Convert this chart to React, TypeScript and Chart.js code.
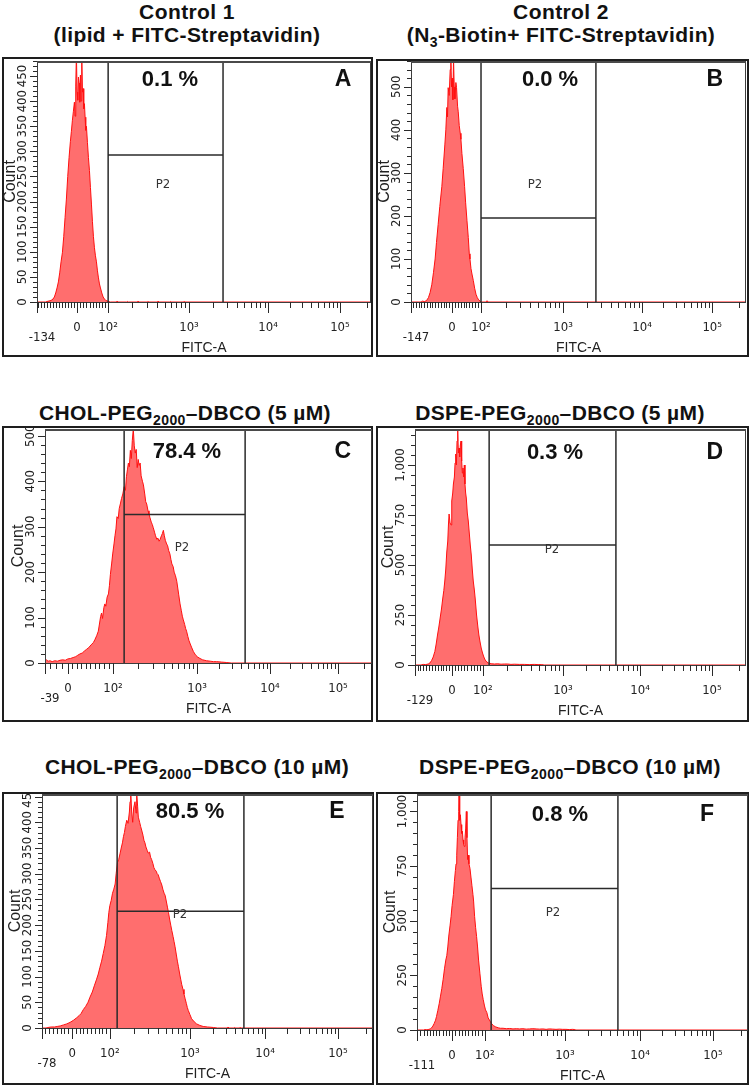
import React, { useEffect, useRef } from "react";
import { Chart, registerables } from "chart.js";

Chart.register(...registerables);

const FONT = '"Liberation Sans", Arial, Helvetica, sans-serif';
const NARROW = '"Liberation Sans Narrow", "DejaVu Sans Condensed", "Liberation Sans", sans-serif';

// ---------- Histogram series: [display channel (0-1000), count] ----------
const histA: number[][] = [[0,0],[26,0],[30,1],[36,2],[42,3],[48,6],[52,10],[56,18],[60,28],[64,40],[68,58],[72,80],[76,98],[80,130],[84,168],[88,205],[92,250],[96,288],[100,320],[103,340],[106,362],[109,380],[112,398],[114,370],[116,430],[118,495],[120,418],[122,402],[124,448],[126,436],[128,398],[130,452],[132,400],[134,495],[136,418],[138,425],[140,385],[142,395],[144,368],[146,342],[148,350],[151,318],[154,288],[157,262],[160,228],[163,195],[166,160],[169,130],[172,108],[175,92],[178,80],[181,62],[184,48],[187,36],[190,28],[194,18],[198,10],[202,6],[206,3],[210,2],[214,1],[220,0],[238,0],[240,2],[243,0],[268,0],[270,1],[273,0],[300,0],[302,2],[305,0],[330,0],[332,1],[335,0],[360,0],[362,2],[365,0],[398,0],[400,1],[403,0],[438,0],[440,1],[443,0],[1000,0]];
const histB: number[][] = [[0,0],[30,0],[34,2],[40,1],[46,3],[52,10],[57,22],[62,40],[67,68],[72,100],[76,138],[81,180],[86,222],[92,268],[96,310],[101,365],[104,400],[107,452],[109,430],[111,498],[114,480],[117,540],[119,565],[121,500],[123,520],[125,470],[127,565],[129,500],[131,472],[134,510],[136,498],[139,455],[141,442],[144,410],[147,392],[149,378],[152,345],[156,310],[160,268],[163,232],[167,190],[171,150],[174,112],[176,100],[179,78],[182,65],[186,50],[190,32],[194,18],[198,10],[202,5],[206,2],[210,0],[225,0],[227,3],[230,0],[1000,0]];
const histC: number[][] = [[0,10],[5,6],[10,4],[15,5],[22,3],[30,5],[38,4],[46,6],[54,7],[62,6],[70,9],[78,10],[86,12],[94,14],[100,17],[107,20],[114,22],[120,26],[127,30],[134,34],[141,40],[148,45],[153,52],[158,60],[163,70],[167,88],[170,102],[173,110],[176,98],[180,122],[183,130],[186,125],[190,145],[194,152],[197,170],[200,195],[204,220],[207,240],[211,262],[214,280],[217,295],[220,322],[224,318],[227,340],[231,352],[234,362],[238,372],[242,388],[246,380],[249,410],[252,425],[255,440],[258,432],[261,468],[264,450],[267,490],[270,515],[273,478],[276,462],[279,470],[282,430],[285,448],[288,435],[291,440],[294,412],[298,400],[301,392],[305,372],[308,355],[311,350],[315,335],[318,328],[321,320],[325,310],[328,305],[331,298],[335,288],[338,280],[342,272],[345,275],[349,268],[352,272],[356,280],[359,285],[362,292],[365,280],[368,270],[372,262],[375,258],[378,248],[382,240],[385,228],[388,218],[392,212],[395,200],[399,192],[403,180],[406,165],[409,150],[413,130],[417,115],[420,103],[423,95],[427,85],[430,76],[433,70],[437,58],[440,50],[443,44],[448,35],[454,25],[460,18],[467,13],[474,10],[482,7],[494,5],[505,4],[515,3],[525,3],[540,2],[556,1],[570,0],[1000,0]];
const histD: number[][] = [[0,0],[18,0],[25,3],[32,2],[40,5],[45,10],[50,22],[55,40],[60,68],[64,105],[68,150],[72,190],[76,235],[80,280],[84,335],[87,372],[90,420],[93,480],[96,565],[99,620],[101,700],[103,755],[106,710],[109,700],[111,820],[114,860],[116,905],[119,940],[121,1010],[123,1055],[125,1000],[127,1120],[129,1185],[131,1060],[133,1085],[135,1040],[137,1100],[139,1120],[141,1020],[143,960],[145,985],[147,940],[149,1000],[151,905],[153,860],[155,835],[158,760],[161,720],[164,660],[167,600],[170,550],[173,480],[176,420],[179,380],[182,330],[186,250],[190,190],[193,150],[196,120],[200,85],[204,60],[208,40],[212,25],[217,15],[222,10],[227,8],[232,6],[240,5],[250,6],[260,4],[270,5],[280,5],[290,3],[300,4],[315,3],[330,3],[345,2],[360,3],[372,2],[383,2],[390,0],[1000,0]];
const histE: number[][] = [[0,0],[12,0],[18,1],[28,2],[38,2],[46,3],[55,4],[65,6],[75,8],[85,11],[95,15],[105,20],[112,24],[118,28],[125,36],[132,42],[139,50],[145,60],[152,70],[158,82],[165,95],[170,105],[175,118],[180,130],[185,145],[190,160],[195,180],[199,205],[202,225],[205,238],[209,248],[213,262],[217,270],[221,280],[224,300],[228,322],[232,328],[236,340],[240,352],[243,360],[246,372],[249,380],[252,392],[256,404],[260,398],[264,420],[266,440],[268,458],[271,420],[274,400],[277,428],[281,440],[284,418],[286,458],[289,430],[291,410],[295,400],[298,392],[301,385],[305,375],[308,365],[311,360],[314,352],[318,345],[321,340],[325,342],[328,332],[331,328],[335,320],[338,312],[341,308],[345,305],[348,300],[351,298],[355,290],[358,285],[362,278],[365,270],[369,262],[372,258],[376,245],[379,235],[382,225],[386,210],[389,200],[392,190],[396,178],[399,168],[402,158],[406,142],[409,130],[412,120],[416,105],[419,95],[422,85],[426,75],[429,66],[432,58],[436,48],[439,40],[442,34],[447,26],[452,18],[460,12],[467,8],[477,5],[487,3],[500,2],[518,1],[530,0],[560,0],[562,2],[565,0],[580,0],[582,1],[585,0],[596,0],[598,1],[601,0],[1000,0]];
const histF: number[][] = [[0,0],[20,0],[24,2],[30,1],[36,3],[40,5],[44,10],[48,18],[52,30],[56,45],[59,62],[63,90],[67,120],[71,155],[75,190],[79,232],[83,280],[87,320],[90,340],[93,380],[96,430],[100,480],[103,520],[106,570],[110,620],[113,680],[116,730],[118,760],[120,800],[122,880],[124,960],[126,1000],[127,1080],[129,960],[131,985],[133,940],[135,900],[137,910],[139,870],[141,850],[143,840],[145,880],[147,920],[149,1000],[151,880],[153,780],[155,800],[157,760],[160,740],[163,700],[166,660],[169,620],[171,590],[174,520],[177,470],[180,428],[183,380],[186,320],[190,260],[194,200],[197,165],[200,140],[204,110],[207,92],[211,80],[215,55],[221,40],[226,28],[231,20],[238,14],[246,10],[252,8],[260,8],[270,6],[280,7],[290,5],[300,6],[310,5],[320,6],[330,4],[340,5],[350,6],[360,5],[370,4],[380,5],[390,3],[400,5],[410,4],[420,3],[430,4],[440,3],[450,3],[460,2],[470,3],[477,2],[480,0],[1000,0]];

// ---------- X axis calibration: channel of [min, 0, 10^2, 10^3, 10^4, 10^5] ----------
const xTicksA = [0, 120, 213, 455, 692, 907];
const xTicksB = [0, 122, 209, 454, 690, 899];
const xTicksC = [0, 70, 208, 465, 688, 896];
const xTicksD = [0, 112, 205, 447, 680, 897];
const xTicksE = [0, 91, 205, 447, 674, 894];
const xTicksF = [0, 106, 205, 447, 674, 894];
const xMinLabels = ["-134", "-147", "-39", "-129", "-78", "-111"];
const decadeLabels = ["0", "10\u00B2", "10\u00B3", "10\u2074", "10\u2075"];

// ---------- Y axis ----------
const yMaxes = [480, 560, 515, 1180, 455, 1080];
const yMajorSteps = [50, 100, 100, 250, 50, 250];
const yMinorSteps = [10, 20, 20, 50, 10, 50];

// ---------- P2 gates: [left channel, right channel, marker count] ----------
const gateA = [213, 557, 293];
const gateB = [209, 552, 195];
const gateC = [242, 612, 327];
const gateD = [224, 607, 600];
const gateE = [227, 610, 227];
const gateF = [224, 607, 647];

const percents = ["0.1 %", "0.0 %", "78.4 %", "0.3 %", "80.5 %", "0.8 %"];
const letters = ["A", "B", "C", "D", "E", "F"];

// ---------- annotation anchors in data units: [pctCh, pctCount, letterCh, p2Ch, p2Count] ----------
const annA = [398, 442, 916, 377, 233];
const annB = [415, 516, 907, 370, 272];
const annC = [434, 465, 911, 419, 254];
const annD = [423, 1060, 906, 414, 575];
const annE = [447, 420, 891, 417, 221];
const annF = [432, 986, 876, 411, 537];

// ---------- layout (page px): frame [x0,y0,x1,y1], plot [x0,y0,x1,y1] ----------
const frames = [
  [2, 57, 373, 357],
  [376, 59, 749, 357],
  [2, 426, 373, 722],
  [376, 426, 749, 722],
  [2, 792, 374, 1085],
  [376, 792, 749, 1085],
];
const plots = [
  [37, 61, 371, 302],
  [411, 61, 746, 302],
  [45, 429, 372, 663],
  [415, 429, 746, 665],
  [42, 794, 373, 1028],
  [417, 794, 748, 1030],
];

const hists = [histA, histB, histC, histD, histE, histF];
const xTicks = [xTicksA, xTicksB, xTicksC, xTicksD, xTicksE, xTicksF];
const gates = [gateA, gateB, gateC, gateD, gateE, gateF];
const anns = [annA, annB, annC, annD, annE, annF];

function minorXTicks(t: number[], minVal: number): number[] {
  const [cMin, c0, c2, c3, c4, c5] = t;
  const out: number[] = [];
  for (let v = Math.ceil(minVal / 10) * 10; v < 100; v += 10) {
    if (v === 0 || v === minVal) continue;
    const c = v < 0 ? cMin + ((v - minVal) / (0 - minVal)) * (c0 - cMin) : c0 + (v / 100) * (c2 - c0);
    out.push(c);
  }
  const dec = [c2, c3, c4, c5];
  for (let d = 0; d < 3; d++)
    for (let k = 2; k <= 9; k++) out.push(dec[d] + Math.log10(k) * (dec[d + 1] - dec[d]));
  const c6 = c5 + Math.log10(2.4) * (c5 - c4);
  out.push(c6);
  return out;
}

function fmt(v: number) {
  return v >= 1000 ? v.toLocaleString("en-US") : String(v);
}

function makeDecor(i: number) {
  return {
    id: "facsDecor" + i,
    afterDraw(chart: any) {
      const { ctx, chartArea } = chart;
      const xs = chart.scales.x;
      const ys = chart.scales.y;
      const L = chartArea.left, R = chartArea.right, T = chartArea.top, B = chartArea.bottom;
      const yMax = yMaxes[i], major = yMajorSteps[i], minor = yMinorSteps[i];
      ctx.save();
      // outer frame
      ctx.strokeStyle = "#1e1e1e";
      ctx.lineWidth = 2;
      ctx.strokeRect(1, 1, chart.width - 2, chart.height - 2);
      // plot box
      ctx.strokeStyle = "#3c3c3c";
      ctx.lineWidth = 1;
      ctx.beginPath();
      ctx.moveTo(L + 0.5, T);
      ctx.lineTo(L + 0.5, B + 0.5);
      ctx.lineTo(R, B + 0.5);
      ctx.moveTo(R - 0.5, T);
      ctx.lineTo(R - 0.5, B);
      ctx.stroke();
      ctx.strokeStyle = "#4a4a4a";
      ctx.lineWidth = 2;
      ctx.beginPath();
      ctx.moveTo(L, T + 1);
      ctx.lineTo(R, T + 1);
      ctx.stroke();

      // y ticks
      ctx.strokeStyle = "#2a2a2a";
      ctx.lineWidth = 1;
      ctx.beginPath();
      for (let v = 0; v <= yMax + 1e-6; v += minor) {
        const py = Math.round(ys.getPixelForValue(v)) + 0.5;
        const len = v % major === 0 ? 7 : 4;
        ctx.moveTo(L - len, py);
        ctx.lineTo(L, py);
      }
      ctx.stroke();
      ctx.fillStyle = "#222";
      ctx.font = `13px ${NARROW}`;
      ctx.textAlign = "center";
      ctx.textBaseline = "middle";
      for (let v = 0; v <= yMax + 1e-6; v += major) {
        ctx.save();
        ctx.translate(L - 14, ys.getPixelForValue(v));
        ctx.rotate(-Math.PI / 2);
        ctx.fillText(fmt(v), 0, 0);
        ctx.restore();
      }
      ctx.save();
      ctx.font = `16px ${FONT}`;
      ctx.translate(L - 26, (T + B) / 2);
      ctx.rotate(-Math.PI / 2);
      ctx.fillText("Count", 0, 0);
      ctx.restore();

      // x ticks
      const t = xTicks[i];
      const minVal = parseFloat(xMinLabels[i]);
      const minors = minorXTicks(t, minVal);
      ctx.beginPath();
      for (const c of minors) {
        const px = Math.round(xs.getPixelForValue(c)) + 0.5;
        ctx.moveTo(px, B);
        ctx.lineTo(px, B + 6);
      }
      for (const c of t) {
        const px = Math.round(xs.getPixelForValue(c)) + 0.5;
        ctx.moveTo(px, B);
        ctx.lineTo(px, B + 11);
      }
      ctx.stroke();
      ctx.font = `13px ${NARROW}`;
      for (let k = 1; k < t.length; k++) {
        ctx.fillText(decadeLabels[k - 1], xs.getPixelForValue(t[k]), B + 26);
      }
      ctx.fillText(xMinLabels[i], L + 5, B + 36);
      ctx.font = `14px ${FONT}`;
      ctx.fillText("FITC-A", (L + R) / 2, B + 46);

      // annotations
      const a = anns[i];
      ctx.fillStyle = "#111";
      ctx.font = `bold 22px ${FONT}`;
      ctx.fillText(percents[i], xs.getPixelForValue(a[0]), ys.getPixelForValue(a[1]));
      ctx.font = `bold 23px ${FONT}`;
      ctx.fillText(letters[i], xs.getPixelForValue(a[2]), ys.getPixelForValue(a[1]));
      ctx.font = `13px ${NARROW}`;
      ctx.fillStyle = "#333";
      ctx.fillText("P2", xs.getPixelForValue(a[3]), ys.getPixelForValue(a[4]));
      ctx.restore();
    },
  };
}

function Panel({ i }: { i: number }) {
  const ref = useRef<HTMLCanvasElement>(null);
  const [fx0, fy0, fx1, fy1] = frames[i];
  const [px0, py0, px1, py1] = plots[i];
  const w = fx1 - fx0;
  const h = fy1 - fy0;

  useEffect(() => {
    const [gl, gr, gy] = gates[i];
    const yMax = yMaxes[i];
    const gateData = [
      { x: gl, y: 0 }, { x: gl, y: yMax }, { x: gl, y: null },
      { x: gl, y: gy }, { x: gr, y: gy }, { x: gr, y: null },
      { x: gr, y: 0 }, { x: gr, y: yMax },
    ];
    const chart = new Chart(ref.current as HTMLCanvasElement, {
      type: "line",
      data: {
        datasets: [
          {
            label: "P2 gate",
            data: gateData as any,
            borderColor: "#2b2b2b",
            borderWidth: 1.5,
            pointRadius: 0,
            fill: false,
            spanGaps: false,
          },
          {
            label: "FITC-A",
            data: hists[i].map(([x, y]) => ({ x, y })),
            borderColor: "#ff1010",
            backgroundColor: "#ff6e6e",
            borderWidth: 1,
            pointRadius: 0,
            fill: "origin",
            tension: 0,
          },
        ],
      },
      options: {
        animation: false,
        responsive: false,
        maintainAspectRatio: false,
        events: [],
        layout: {
          padding: { left: px0 - fx0, top: py0 - fy0, right: fx1 - px1, bottom: fy1 - py1 },
        },
        plugins: {
          legend: { display: false },
          tooltip: { enabled: false },
          title: { display: false },
        },
        scales: {
          x: { type: "linear", min: 0, max: 1000, display: false },
          y: { type: "linear", min: 0, max: yMax, display: false },
        },
      },
      plugins: [makeDecor(i)],
    });
    return () => chart.destroy();
  }, [i]);

  return (
    <canvas
      ref={ref}
      width={w}
      height={h}
      style={{ position: "absolute", left: fx0, top: fy0, width: w, height: h }}
    />
  );
}

const sub = (s: string) => (
  <span style={{ fontSize: 14, position: "relative", top: 5 }}>{s}</span>
);

const titles: { cx: number; top: number; lines: React.ReactNode[] }[] = [
  { cx: 187, top: 0, lines: ["Control 1", "(lipid + FITC-Streptavidin)"] },
  { cx: 561, top: 0, lines: ["Control 2", <>(N{sub("3")}-Biotin+ FITC-Streptavidin)</>] },
  { cx: 185, top: 401, lines: [<>CHOL-PEG{sub("2000")}–DBCO (5 µM)</>] },
  { cx: 560, top: 401, lines: [<>DSPE-PEG{sub("2000")}–DBCO (5 µM)</>] },
  { cx: 197, top: 755, lines: [<>CHOL-PEG{sub("2000")}–DBCO (10 µM)</>] },
  { cx: 570, top: 755, lines: [<>DSPE-PEG{sub("2000")}–DBCO (10 µM)</>] },
];

export default function App() {
  return (
    <div
      style={{
        position: "absolute",
        left: 0,
        top: 0,
        width: 750,
        height: 1086,
        background: "#fff",
        overflow: "hidden",
      }}
    >
      {titles.map((t, k) => (
        <div
          key={k}
          style={{
            position: "absolute",
            left: t.cx - 200,
            top: t.top,
            width: 400,
            textAlign: "center",
            fontFamily: FONT,
            fontWeight: "bold",
            fontSize: 21,
            letterSpacing: 0.4,
            lineHeight: "23px",
            color: "#111",
            whiteSpace: "nowrap",
          }}
        >
          {t.lines.map((l, j) => (
            <div key={j}>{l}</div>
          ))}
        </div>
      ))}
      {[0, 1, 2, 3, 4, 5].map((i) => (
        <Panel key={i} i={i} />
      ))}
    </div>
  );
}
